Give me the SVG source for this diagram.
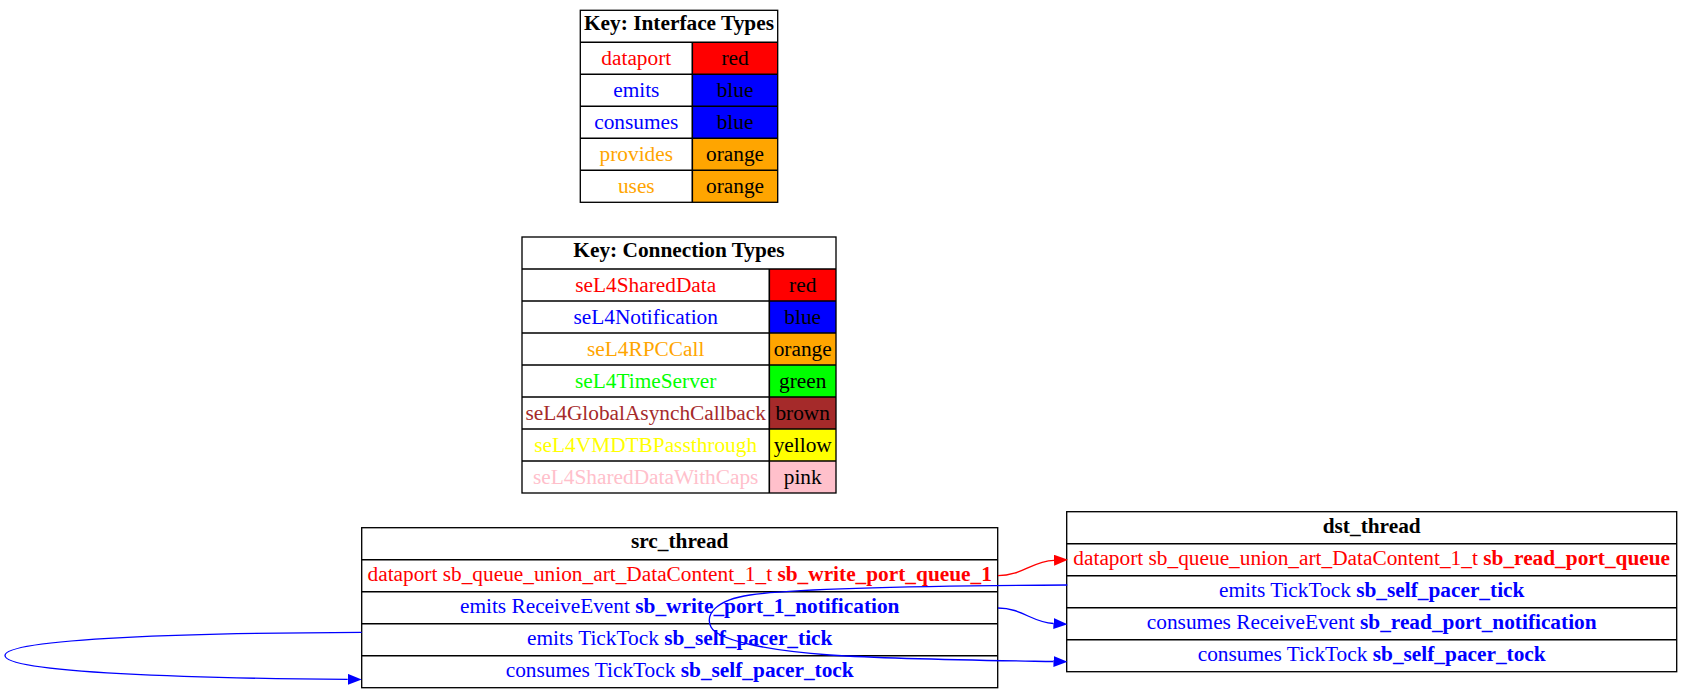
<svg xmlns="http://www.w3.org/2000/svg" width="1692" height="699" viewBox="0 0 1692 699">
<style>
text{font-family:"Liberation Serif","Times New Roman",serif;font-size:21.33px;text-anchor:middle}
.b{font-weight:bold}
.box{fill:none;stroke:#000;stroke-width:1.33}
.ln{stroke:#000;stroke-width:1.6}
.e{fill:none;stroke-width:1.33}
.r{fill:#ff0000}.bl{fill:#0000ff}.o{fill:#ffa500}.g{fill:#00ff00}.br{fill:#a52a2a}.y{fill:#ffff00}.p{fill:#ffc0cb}.k{fill:#000}
</style>
<defs>
<marker id="ab" markerWidth="14" markerHeight="11" refX="0" refY="5.5" orient="auto" markerUnits="userSpaceOnUse"><path d="M0,0 L14,5.5 L0,11 z" fill="#0000ff"/></marker>
<marker id="ar" markerWidth="14" markerHeight="11" refX="0" refY="5.5" orient="auto" markerUnits="userSpaceOnUse"><path d="M0,0 L14,5.5 L0,11 z" fill="#ff0000"/></marker>
</defs>
<rect width="1692" height="699" fill="#fff"/>
<g id="key_interface">
<rect x="692.3" y="42.3" width="85.4" height="32" class="r"/>
<rect x="692.3" y="74.3" width="85.4" height="64" class="bl"/>
<rect x="692.3" y="138.3" width="85.4" height="64" class="o"/>
<rect x="580.3" y="10.3" width="197.4" height="192" class="box"/>
<path class="ln" d="M580.3,42.3H777.7M580.3,74.3H777.7M580.3,106.3H777.7M580.3,138.3H777.7M580.3,170.3H777.7M692.3,42.3V202.3"/>
<text x="679" y="30.3" class="b k">Key: Interface Types</text>
<text x="636.3" y="64.8" class="r">dataport</text><text x="735" y="64.8" class="k">red</text>
<text x="636.3" y="96.8" class="bl">emits</text><text x="735" y="96.8" class="k">blue</text>
<text x="636.3" y="128.8" class="bl">consumes</text><text x="735" y="128.8" class="k">blue</text>
<text x="636.3" y="160.8" class="o">provides</text><text x="735" y="160.8" class="k">orange</text>
<text x="636.3" y="192.8" class="o">uses</text><text x="735" y="192.8" class="k">orange</text>
</g>
<g id="key_connection">
<rect x="769.3" y="269" width="66.7" height="32" class="r"/>
<rect x="769.3" y="301" width="66.7" height="32" class="bl"/>
<rect x="769.3" y="333" width="66.7" height="32" class="o"/>
<rect x="769.3" y="365" width="66.7" height="32" class="g"/>
<rect x="769.3" y="397" width="66.7" height="32" class="br"/>
<rect x="769.3" y="429" width="66.7" height="32" class="y"/>
<rect x="769.3" y="461" width="66.7" height="32" class="p"/>
<rect x="522" y="237" width="314" height="256" class="box"/>
<path class="ln" d="M522,269H836M522,301H836M522,333H836M522,365H836M522,397H836M522,429H836M522,461H836M769.3,269V493"/>
<text x="679" y="256.5" class="b k">Key: Connection Types</text>
<text x="645.7" y="291.5" class="r">seL4SharedData</text><text x="802.7" y="291.5" class="k">red</text>
<text x="645.7" y="323.5" class="bl">seL4Notification</text><text x="802.7" y="323.5" class="k">blue</text>
<text x="645.7" y="355.5" class="o">seL4RPCCall</text><text x="802.7" y="355.5" class="k">orange</text>
<text x="645.7" y="387.5" class="g">seL4TimeServer</text><text x="802.7" y="387.5" class="k">green</text>
<text x="645.7" y="419.5" class="br">seL4GlobalAsynchCallback</text><text x="802.7" y="419.5" class="k">brown</text>
<text x="645.7" y="451.5" class="y">seL4VMDTBPassthrough</text><text x="802.7" y="451.5" class="k">yellow</text>
<text x="645.7" y="483.5" class="p">seL4SharedDataWithCaps</text><text x="802.7" y="483.5" class="k">pink</text>
</g>
<g id="src_thread">
<rect x="361.7" y="527.7" width="636" height="160" class="box"/>
<path class="ln" d="M361.7,559.7H997.7M361.7,591.7H997.7M361.7,623.7H997.7M361.7,655.7H997.7"/>
<text x="679.7" y="548" class="b k">src_thread</text>
<text x="679.7" y="580.5" class="r">dataport sb_queue_union_art_DataContent_1_t <tspan class="b">sb_write_port_queue_1</tspan></text>
<text x="679.7" y="612.5" class="bl">emits ReceiveEvent <tspan class="b">sb_write_port_1_notification</tspan></text>
<text x="679.7" y="644.5" class="bl">emits TickTock <tspan class="b">sb_self_pacer_tick</tspan></text>
<text x="679.7" y="676.5" class="bl">consumes TickTock <tspan class="b">sb_self_pacer_tock</tspan></text>
</g>
<g id="dst_thread">
<rect x="1066.7" y="511.7" width="610" height="160" class="box"/>
<path class="ln" d="M1066.7,543.7H1676.7M1066.7,575.7H1676.7M1066.7,607.7H1676.7M1066.7,639.7H1676.7"/>
<text x="1371.7" y="532.5" class="b k">dst_thread</text>
<text x="1371.7" y="564.5" class="r">dataport sb_queue_union_art_DataContent_1_t <tspan class="b">sb_read_port_queue</tspan></text>
<text x="1371.7" y="596.5" class="bl">emits TickTock <tspan class="b">sb_self_pacer_tick</tspan></text>
<text x="1371.7" y="628.5" class="bl">consumes ReceiveEvent <tspan class="b">sb_read_port_notification</tspan></text>
<text x="1371.7" y="660.5" class="bl">consumes TickTock <tspan class="b">sb_self_pacer_tock</tspan></text>
</g>
<g id="connectors">
<path class="e" stroke="#ff0000" marker-end="url(#ar)" d="M998,575.7 C1022,575.7 1032,561 1054,560.3"/>
<path class="e" stroke="#0000ff" marker-end="url(#ab)" d="M998,608 C1022,608 1032,622.5 1053.5,623.5"/>
<path class="e" stroke="#0000ff" marker-end="url(#ab)" d="M1067.3,585 C900,586 790,589 750,595 C715,600 705,615 711,627 C717,639 760,650 830,655 C900,659.5 990,660.5 1053.5,661.5"/>
<path class="e" stroke="#0000ff" marker-end="url(#ab)" d="M361.7,632.3 C200,633 5,638 5,655.5 C5,673 200,678.5 347.7,679.3"/>
</g>
</svg>
